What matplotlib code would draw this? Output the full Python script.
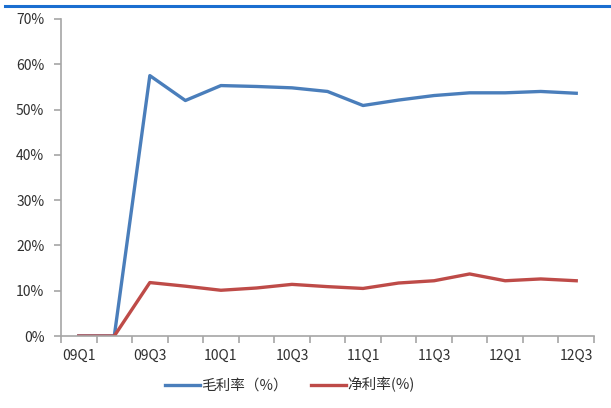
import matplotlib
matplotlib.use("Agg")
import matplotlib.pyplot as plt
from matplotlib.lines import Line2D

plt.rcParams['font.family'] = ['Noto Sans CJK SC', 'DejaVu Sans']

quarters = ["09Q1", "09Q2", "09Q3", "09Q4", "10Q1", "10Q2", "10Q3", "10Q4",
            "11Q1", "11Q2", "11Q3", "11Q4", "12Q1", "12Q2", "12Q3"]
gross_margin = [0, 0, 57.5, 52.0, 55.3, 55.1, 54.8, 54.0, 50.9, 52.1, 53.1, 53.7, 53.7, 54.0, 53.6]
net_margin = [0, 0, 11.8, 11.0, 10.1, 10.6, 11.4, 10.9, 10.5, 11.7, 12.2, 13.7, 12.2, 12.6, 12.2]
series_names = ["毛利率（%）", "净利率(%)"]
y_ticks = [0, 10, 20, 30, 40, 50, 60, 70]

fig = plt.figure(figsize=(6.11, 4.08), dpi=100)
ax = fig.add_axes([61/611, 1-336/408, (594-61)/611, (336-19)/408])

x = list(range(len(quarters)))
l1, = ax.plot(x, gross_margin, color="#4A7EBB", lw=2.4, solid_joinstyle='round')
l2, = ax.plot(x, net_margin, color="#BE4B48", lw=2.4, solid_joinstyle='round')

ax.set_xlim(-0.5, len(quarters) - 0.5)
ax.set_ylim(0, 70)
ax.set_yticks(y_ticks)
ax.set_yticklabels([f"{v}%" for v in y_ticks])
ax.set_xticks(x[::2])
ax.set_xticklabels(quarters[::2])
ax.set_xticks([i - 0.5 for i in range(len(quarters) + 1)], minor=True)

for s in ["top", "right"]:
    ax.spines[s].set_visible(False)
for s in ["left", "bottom"]:
    ax.spines[s].set_color("#A6A6A6")
    ax.spines[s].set_linewidth(1.2)

ax.tick_params(axis='y', length=5, color="#A6A6A6", width=1.2, labelsize=10,
               labelcolor="#303030", pad=7)
ax.tick_params(axis='x', which='major', length=0, labelsize=10, labelcolor="#303030", pad=9)
ax.tick_params(axis='x', which='minor', length=5, color="#A6A6A6", width=1.2)

fig.legend([l1, l2], series_names, loc='center', bbox_to_anchor=(290/611, 1-385/408),
           ncol=2, frameon=False, fontsize=10.5, handlelength=2.4, columnspacing=1.6,
           handletextpad=0.1, labelcolor="#303030")

fig.add_artist(Line2D([5/611, 1], [1-5.5/408, 1-5.5/408], color="#1A6ED0", lw=2.2,
                      transform=fig.transFigure))

fig.savefig("out.png", dpi=100)
